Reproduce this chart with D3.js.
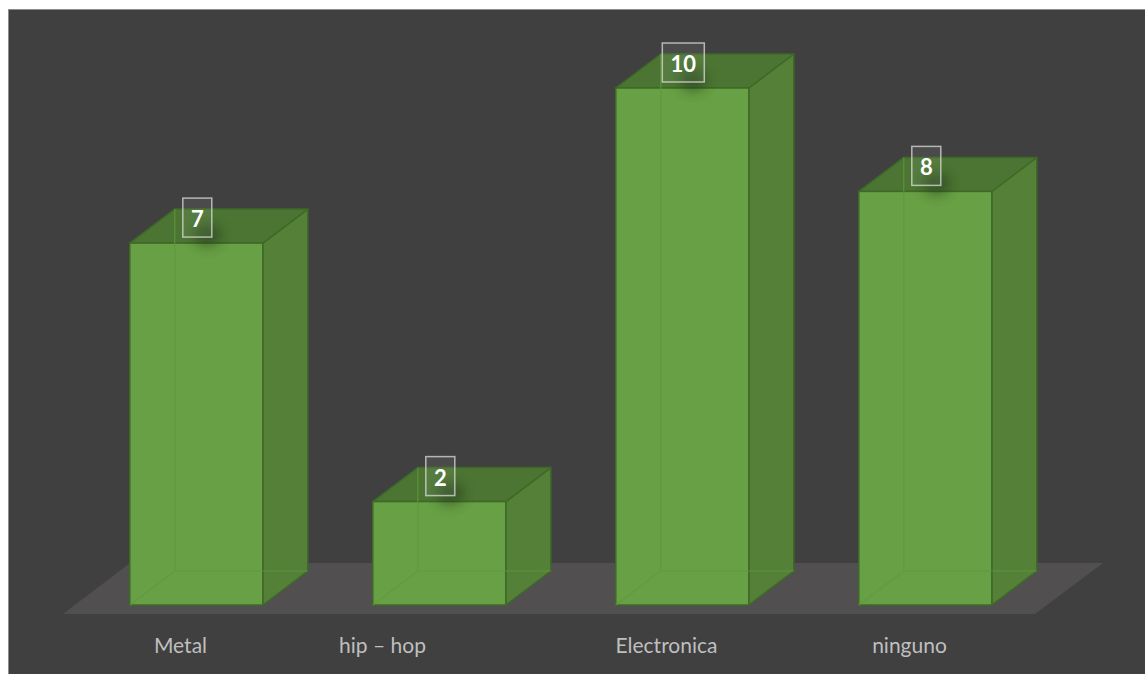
<!DOCTYPE html>
<html><head><meta charset="utf-8">
<script src="https://cdn.jsdelivr.net/npm/d3@7"></script>
<style>html,body{margin:0;padding:0;background:#fff;overflow:hidden}</style>
</head><body>
<svg id="c" width="1145" height="674"></svg>
<script>
const categories = ["Metal", "hip – hop", "Electronica", "ninguno"];
const values = [7, 2, 10, 8];
const valueDomain = [0, 10];

const svg = d3.select("#c");
const W = 1145, H = 674;

// chart area
svg.append("rect").attr("x", 8.5).attr("y", 9.5).attr("width", W).attr("height", H)
  .attr("fill", "#404040").attr("stroke", "#8c8c8c").attr("stroke-width", 1);

// 3D geometry
const floorX0 = 63, floorX1 = 1035, floorFrontY = 614;
const depthX = 67, depthY = -51;           // floor depth
const barShiftX = 11.8, barShiftY = -9;    // bar front offset from floor front edge
const barDX = 45, barDY = -34;             // bar depth

const x = d3.scaleBand().domain(categories).range([floorX0, floorX1])
  .paddingInner(110 / 243).paddingOuter(55 / 243);
const baseY = floorFrontY + barShiftY;
const y = d3.scaleLinear().domain(valueDomain).range([baseY, 88]);

const defs = svg.append("defs");
defs.append("filter").attr("id", "blur").attr("x", "-50%").attr("y", "-50%").attr("width", "200%").attr("height", "200%")
  .append("feGaussianBlur").attr("stdDeviation", 6);

// floor
svg.append("polygon")
  .attr("points", [[floorX0, floorFrontY], [floorX1, floorFrontY], [floorX1 + depthX + 1, floorFrontY + depthY], [floorX0 + depthX, floorFrontY + depthY]].map(p => p.join(",")).join(" "))
  .attr("fill", "#514f50");

const edge = "#3e6a27";
const bars = svg.append("g").selectAll("g").data(categories).join("g");

bars.each(function (c, i) {
  const g = d3.select(this);
  const x0 = x(c) + barShiftX, x1 = x0 + x.bandwidth();
  const yt = y(values[i]), yb = baseY;
  const P = pts => pts.map(p => p.join(",")).join(" ");
  // side face
  g.append("polygon").attr("points", P([[x1, yt], [x1 + barDX, yt + barDY], [x1 + barDX, yb + barDY], [x1, yb]]))
    .attr("fill", "#548137").attr("stroke", edge).attr("stroke-width", 1.5).attr("stroke-linejoin", "round");
  // top face
  g.append("polygon").attr("points", P([[x0, yt], [x0 + barDX, yt + barDY], [x1 + barDX, yt + barDY], [x1, yt]]))
    .attr("fill", "#4c7533").attr("stroke", edge).attr("stroke-width", 1.5).attr("stroke-linejoin", "round");
  // front face
  g.append("rect").attr("x", x0).attr("y", yt).attr("width", x1 - x0).attr("height", yb - yt)
    .attr("fill", "#68a045").attr("stroke", edge).attr("stroke-width", 1.5);
  // hidden edges seen through translucency
  g.append("path")
    .attr("d", `M${x0},${yb}L${x0 + barDX},${yb + barDY}L${x1 + barDX},${yb + barDY}M${x0 + barDX},${yb + barDY}L${x0 + barDX},${yt + barDY}`)
    .attr("fill", "none").attr("stroke", "#5f9a3c").attr("stroke-width", 1.2).attr("opacity", 0.8);

  // label shadow
  const cx = (x0 + x1) / 2 + 1;
  g.append("ellipse").attr("cx", cx + 10).attr("cy", yt - 8).attr("rx", 14).attr("ry", 12)
    .attr("fill", "#1f3314").attr("opacity", 0.45).attr("filter", "url(#blur)");

  // data label box
  const txt = String(values[i]);
  const bw = txt.length > 1 ? 42 : 29, bh = 39;
  const by = yt - 6 - bh;
  g.append("rect").attr("x", cx - bw / 2).attr("y", by).attr("width", bw).attr("height", bh)
    .attr("fill", "rgba(255,255,255,0.06)").attr("stroke", "rgba(220,220,220,0.75)").attr("stroke-width", 1.5);
  g.append("text").attr("x", cx).attr("y", by + bh - 10).attr("text-anchor", "middle")
    .attr("font-family", "Lato, 'Open Sans', sans-serif").attr("font-weight", "bold").attr("font-size", 22)
    .attr("fill", "#ffffff").text(txt);
});

// category labels along the floor front edge
const labelNudge = { "hip – hop": -41 };
svg.append("g").selectAll("text").data(categories).join("text")
  .attr("x", c => x(c) + x.bandwidth() / 2 - 4 + (labelNudge[c] || 0))
  .attr("y", 653)
  .attr("text-anchor", "middle")
  .attr("font-family", "Lato, 'Open Sans', sans-serif").attr("font-size", 21)
  .attr("fill", "#bfbfbf")
  .text(c => c);
</script>
</body></html>
